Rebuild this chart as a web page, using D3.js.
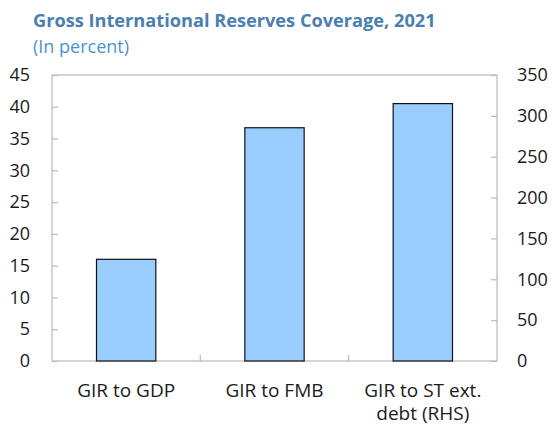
<!DOCTYPE html>
<html>
<head>
<meta charset="utf-8">
<script src="https://cdn.jsdelivr.net/npm/d3@7"></script>
<style>
  body { margin: 0; background: #fff; }
  text { font-family: "Open Sans", "Noto Sans", sans-serif; }
</style>
</head>
<body>
<svg id="chart" width="552" height="425"></svg>
<script>
// Reserve coverage ratios, 2021
const categories = [["GIR to GDP"], ["GIR to FMB"], ["GIR to ST ext.", "debt (RHS)"]];
const values = [16.0, 36.7, 315];          // last value is read against the right axis
const onRight = [false, false, true];
const leftTicks = [0, 5, 10, 15, 20, 25, 30, 35, 40, 45];
const rightTicks = [0, 50, 100, 150, 200, 250, 300, 350];

const svg = d3.select("#chart");
const m = { left: 52, right: 497, top: 75, bottom: 361 };
const axisColor = "#bfbfbf";
const textColor = "#1a1a1a";

const x = d3.scaleBand().domain(d3.range(categories.length)).range([m.left, m.right]).paddingInner(0).paddingOuter(0);
const yL = d3.scaleLinear().domain([0, 45]).range([m.bottom, m.top]);
const yR = d3.scaleLinear().domain([0, 350]).range([m.bottom, m.top]);

// Title block
svg.append("text").attr("x", 33).attr("y", 27)
  .attr("font-size", 18.2).attr("font-weight", "bold").attr("fill", "#4a7fb0")
  .text("Gross International Reserves Coverage, 2021");
svg.append("text").attr("x", 33).attr("y", 53)
  .attr("font-size", 18).attr("fill", "#4f93cf")
  .text("(In percent)");

// Plot frame
svg.append("rect").attr("x", m.left).attr("y", m.top)
  .attr("width", m.right - m.left).attr("height", m.bottom - m.top)
  .attr("fill", "none").attr("stroke", axisColor).attr("stroke-width", 1.3);

// Bars
const bw = x.bandwidth() * 0.4;
svg.selectAll("rect.bar").data(values).join("rect")
  .attr("class", "bar")
  .attr("x", (d, i) => x(i) + (x.bandwidth() - bw) / 2)
  .attr("width", bw)
  .attr("y", (d, i) => (onRight[i] ? yR : yL)(d))
  .attr("height", (d, i) => m.bottom - (onRight[i] ? yR : yL)(d))
  .attr("fill", "#99ccff").attr("stroke", "#111").attr("stroke-width", 1.2);

// Left axis: ticks point inward
const gL = svg.append("g").attr("transform", `translate(${m.left},0)`)
  .call(d3.axisLeft(yL).tickValues(leftTicks).tickSize(-6).tickPadding(22));
// Right axis
const gR = svg.append("g").attr("transform", `translate(${m.right},0)`)
  .call(d3.axisRight(yR).tickValues(rightTicks).tickSize(-6).tickPadding(20));
[gL, gR].forEach(g => {
  g.select(".domain").remove();
  g.selectAll(".tick line").attr("stroke", axisColor).attr("stroke-width", 1.3);
  g.selectAll(".tick text").attr("font-size", 18).attr("fill", textColor);
});

// Category separators on the baseline
svg.selectAll("line.sep").data(d3.range(1, categories.length)).join("line")
  .attr("class", "sep")
  .attr("x1", d => x(d)).attr("x2", d => x(d))
  .attr("y1", m.bottom).attr("y2", m.bottom - 6)
  .attr("stroke", axisColor).attr("stroke-width", 1.3);

// Category labels, one text element per line
const lines = [];
categories.forEach((c, i) => c.forEach((t, j) => lines.push({ i, j, t })));
svg.selectAll("text.cat").data(lines).join("text")
  .attr("class", "cat")
  .attr("text-anchor", "middle")
  .attr("font-size", 19).attr("fill", textColor)
  .attr("x", d => x(d.i) + x.bandwidth() / 2)
  .attr("y", d => m.bottom + 36 + d.j * 23)
  .text(d => d.t);
</script>
</body>
</html>
